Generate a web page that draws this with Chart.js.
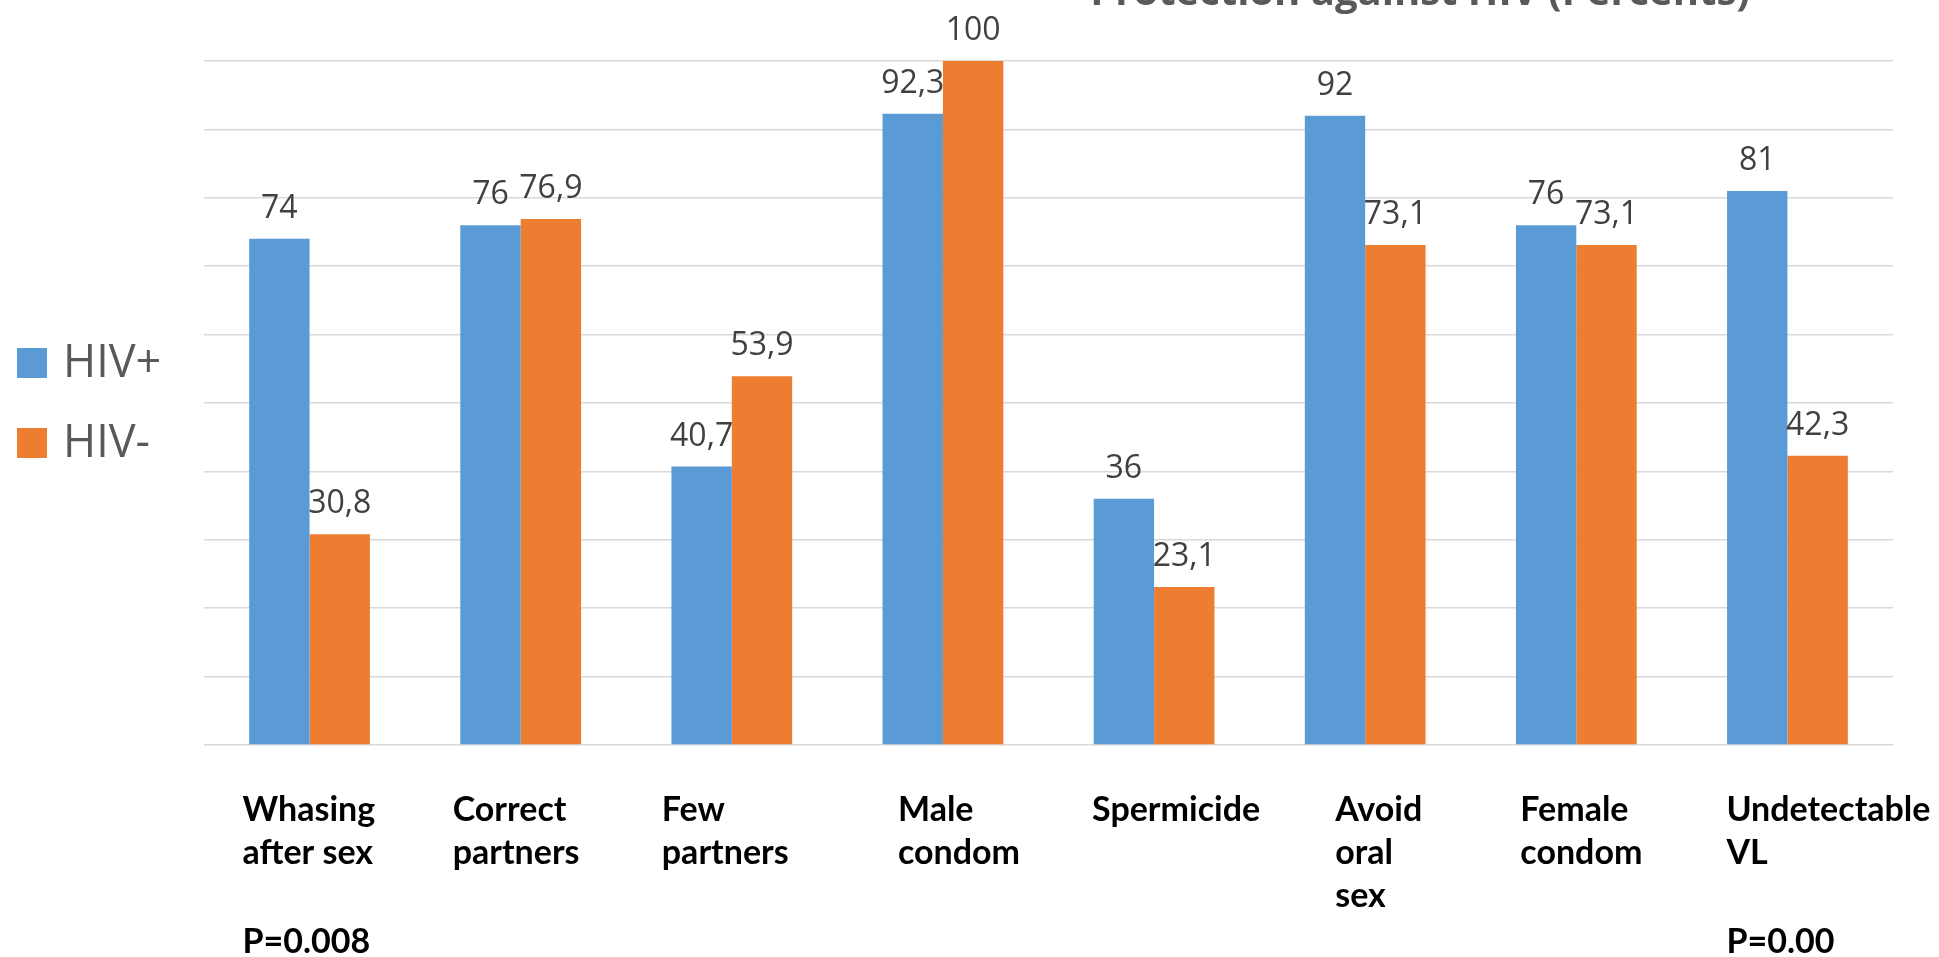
<!DOCTYPE html>
<html>
<head>
<meta charset="utf-8">
<title>Protection against HIV (Percents)</title>
<script src="https://cdn.jsdelivr.net/npm/chart.js@4.4.0/dist/chart.umd.min.js"></script>
<style>
    html, body { margin: 0; padding: 0; background: #ffffff; }
    #wrap { width: 1939px; height: 957px; }
</style>
</head>
<body>
<div id="wrap"><canvas id="hivChart" width="1939" height="957"></canvas></div>
<script>
// --- Data ---
const categories = [
    ['Whasing', 'after sex'],
    ['Correct', 'partners'],
    ['Few', 'partners'],
    ['Male', 'condom'],
    ['Spermicide'],
    ['Avoid', 'oral', 'sex'],
    ['Female', 'condom'],
    ['Undetectable', 'VL']
];
const hivPos = [74, 76, 40.7, 92.3, 36, 92, 76, 81];
const hivNeg = [30.8, 76.9, 53.9, 100, 23.1, 73.1, 73.1, 42.3];
const pValues = ['P=0.008', '', '', '', '', '', '', 'P=0.00'];
const seriesNames = ['HIV+', 'HIV-'];
const chartTitle = 'Protection against HIV (Percents)';

// --- Look ---
const BLUE = '#5b9bd5';
const ORANGE = '#ed7d31';
const GREY_TEXT = '#595959';
// the category text boxes are hand placed in the source slide, so each one sits a bit differently
const textBoxNudge = [-67, -68, -70, -45, -62, -30, -56, -61];

// value labels on top of the bars, written with a decimal comma
const barValueLabels = {
    id: 'barValueLabels',
    afterDatasetsDraw(chart) {
        const ctx = chart.ctx;
        ctx.save();
        ctx.font = '32px "Open Sans", sans-serif';
        ctx.fillStyle = '#404040';
        ctx.textAlign = 'center';
        ctx.textBaseline = 'alphabetic';
        chart.data.datasets.forEach((ds, di) => {
            chart.getDatasetMeta(di).data.forEach((bar, i) => {
                const txt = String(ds.data[i]).replace('.', ',');
                ctx.fillText(txt, bar.x, bar.y - 21);
            });
        });
        ctx.restore();
    }
};

// bold category names and p values under the axis
const categoryTextBoxes = {
    id: 'categoryTextBoxes',
    afterDraw(chart) {
        const ctx = chart.ctx;
        const xs = chart.scales.x;
        ctx.save();
        ctx.font = 'bold 34px Lato, "Liberation Sans", sans-serif';
        ctx.fillStyle = '#000000';
        ctx.textAlign = 'left';
        ctx.textBaseline = 'alphabetic';
        categories.forEach((lines, i) => {
            const x = xs.getPixelForValue(i) + textBoxNudge[i];
            lines.forEach((line, j) => ctx.fillText(line, x, 821 + j * 43));
            if (pValues[i]) ctx.fillText(pValues[i], x, 953);
        });
        ctx.restore();
    }
};

// legend on the left, squares + names
const sideLegend = {
    id: 'sideLegend',
    afterDraw(chart) {
        const ctx = chart.ctx;
        ctx.save();
        ctx.font = '45px "Open Sans", sans-serif';
        ctx.textBaseline = 'middle';
        ctx.textAlign = 'left';
        chart.data.datasets.forEach((ds, i) => {
            const cy = 363 + i * 80;
            ctx.fillStyle = ds.backgroundColor;
            ctx.fillRect(17, cy - 15, 30, 30);
            ctx.fillStyle = GREY_TEXT;
            ctx.fillText(ds.label, 63, cy + 1);
        });
        ctx.restore();
    }
};

// title is cut off at the top edge in the reference
const topTitle = {
    id: 'topTitle',
    afterDraw(chart) {
        const ctx = chart.ctx;
        ctx.save();
        ctx.font = 'bold 40px "Open Sans", sans-serif';
        ctx.fillStyle = GREY_TEXT;
        ctx.textAlign = 'center';
        ctx.textBaseline = 'alphabetic';
        ctx.fillText(chartTitle, 1420, 5);
        ctx.restore();
    }
};

new Chart(document.getElementById('hivChart'), {
    type: 'bar',
    data: {
        labels: categories,
        datasets: [
            { label: seriesNames[0], data: hivPos, backgroundColor: BLUE },
            { label: seriesNames[1], data: hivNeg, backgroundColor: ORANGE }
        ]
    },
    options: {
        responsive: false,
        animation: false,
        layout: { padding: { left: 204, right: 46, top: 61, bottom: 212 } },
        datasets: { bar: { categoryPercentage: 0.572, barPercentage: 1.0, borderWidth: 0 } },
        plugins: {
            legend: { display: false },
            title: { display: false },
            tooltip: { enabled: false }
        },
        scales: {
            x: {
                display: false
            },
            y: {
                min: 0,
                max: 100,
                ticks: { display: false, stepSize: 10 },
                grid: { color: '#d9d9d9', lineWidth: 1.5, drawTicks: false },
                border: { display: false }
            }
        }
    },
    plugins: [barValueLabels, categoryTextBoxes, sideLegend, topTitle]
});
</script>
</body>
</html>
